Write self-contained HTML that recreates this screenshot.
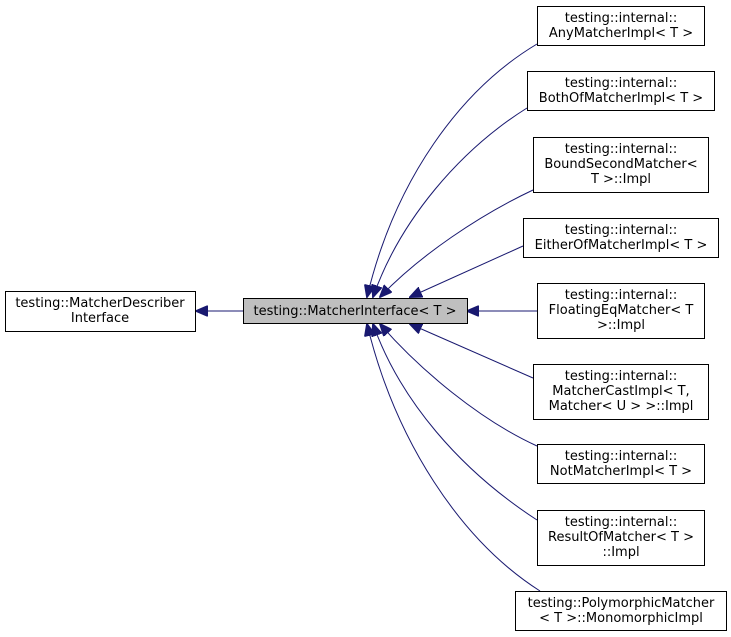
<!DOCTYPE html>
<html><head><meta charset="utf-8"><style>
body{margin:0;background:#fff;}
svg{display:block;font-family:"DejaVu Sans","Liberation Sans",sans-serif;font-size:13px;}
</style></head><body>
<svg width="731" height="637" viewBox="0 0 731 637">
<defs>
<marker id="a" markerWidth="13" markerHeight="11" refX="12" refY="5.5" orient="auto" markerUnits="userSpaceOnUse">
<path d="M0,0 L13,5.5 L0,11 Z" fill="#191970" stroke="#191970"/>
</marker>
</defs>
<g fill="none" stroke="#191970" stroke-width="1">
<path d="M243,311 L196,311" marker-end="url(#a)"/>
<path d="M537,44 C460,90 395,180 367,297" marker-end="url(#a)"/>
<path d="M527,108 C460,150 400,220 373,297" marker-end="url(#a)"/>
<path d="M533,190 C480,215 420,255 380,297" marker-end="url(#a)"/>
<path d="M523,246 L410,297" marker-end="url(#a)"/>
<path d="M537,311 L467,311" marker-end="url(#a)"/>
<path d="M533,378 L410,324" marker-end="url(#a)"/>
<path d="M537,446 C480,420 420,370 380,324" marker-end="url(#a)"/>
<path d="M537,520 C460,470 400,400 373,324" marker-end="url(#a)"/>
<path d="M540,591 C460,540 395,440 367,324" marker-end="url(#a)"/>
</g>
<g stroke="#000" stroke-width="1" fill="#fff">
<rect x="5.5" y="291.5" width="190" height="40"/>
<rect x="243.5" y="298.5" width="224" height="25" fill="#bfbfbf"/>
<rect x="537.5" y="6.5" width="167" height="39"/>
<rect x="527.5" y="71.5" width="187" height="39"/>
<rect x="533.5" y="137.5" width="175" height="55"/>
<rect x="523.5" y="218.5" width="195" height="39"/>
<rect x="537.5" y="283.5" width="167" height="55"/>
<rect x="533.5" y="364.5" width="175" height="55"/>
<rect x="537.5" y="444.5" width="167" height="39"/>
<rect x="537.5" y="510.5" width="167" height="55"/>
<rect x="515.5" y="591.5" width="211" height="39"/>
</g>
<g fill="#000" text-anchor="middle">
<text x="100" y="307">testing::MatcherDescriber</text>
<text x="100" y="322">Interface</text>
<text x="355" y="315">testing::MatcherInterface&lt; T &gt;</text>
<text x="621" y="22">testing::internal::</text>
<text x="621" y="37">AnyMatcherImpl&lt; T &gt;</text>
<text x="621" y="87">testing::internal::</text>
<text x="621" y="102">BothOfMatcherImpl&lt; T &gt;</text>
<text x="621" y="153">testing::internal::</text>
<text x="621" y="168">BoundSecondMatcher&lt;</text>
<text x="621" y="183">T &gt;::Impl</text>
<text x="621" y="234">testing::internal::</text>
<text x="621" y="249">EitherOfMatcherImpl&lt; T &gt;</text>
<text x="621" y="299">testing::internal::</text>
<text x="621" y="314">FloatingEqMatcher&lt; T</text>
<text x="621" y="329">&gt;::Impl</text>
<text x="621" y="380">testing::internal::</text>
<text x="621" y="395">MatcherCastImpl&lt; T,</text>
<text x="621" y="410">Matcher&lt; U &gt; &gt;::Impl</text>
<text x="621" y="460">testing::internal::</text>
<text x="621" y="475">NotMatcherImpl&lt; T &gt;</text>
<text x="621" y="526">testing::internal::</text>
<text x="621" y="541">ResultOfMatcher&lt; T &gt;</text>
<text x="621" y="556">::Impl</text>
<text x="621" y="607">testing::PolymorphicMatcher</text>
<text x="621" y="622">&lt; T &gt;::MonomorphicImpl</text>
</g>
</svg>
</body></html>
